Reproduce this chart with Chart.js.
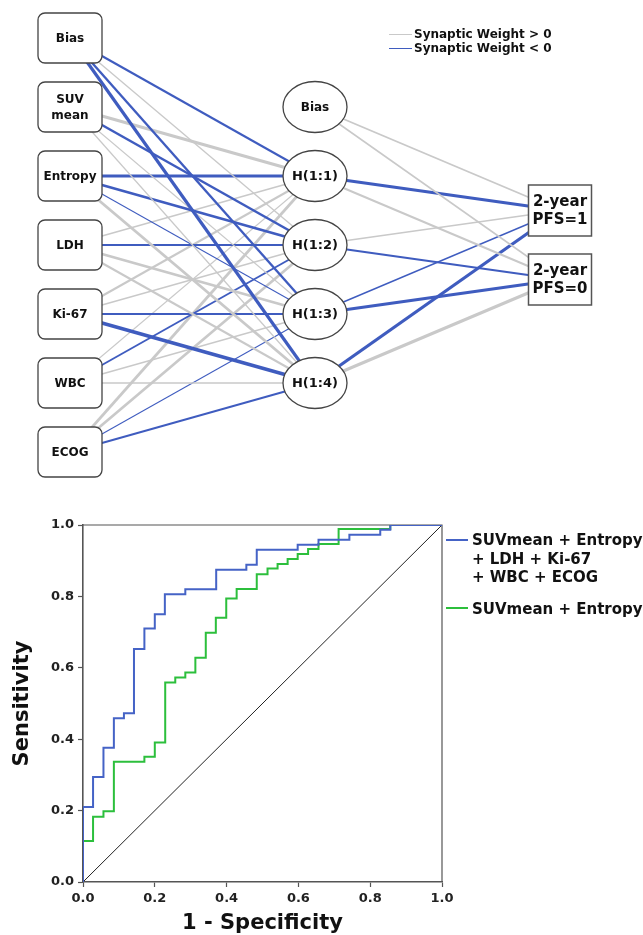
<!DOCTYPE html>
<html>
<head>
<meta charset="utf-8">
<script src="https://cdn.jsdelivr.net/npm/chart.js@4.4.1/dist/chart.umd.min.js"></script>
<style>
  body { margin: 0; background: #fff; font-family: "DejaVu Sans", sans-serif; }
  #wrap { position: relative; width: 643px; height: 935px; overflow: hidden; }
  #net { position: absolute; left: 0; top: 0; }
  #roc { position: absolute; left: 0; top: 490px; }
  .leg { position: absolute; font-weight: bold; color: #111; white-space: nowrap; }
  .sw { position: absolute; height: 0; }
</style>
</head>
<body>
<div id="wrap">
  <canvas id="net" width="643" height="490"></canvas>
  <canvas id="roc" width="643" height="445"></canvas>

  <!-- network legend -->
  <div class="sw" style="left:389px;top:34px;width:23px;border-top:1.5px solid #c9c9c9"></div>
  <div class="leg" style="left:414px;top:27px;font-size:12px;line-height:15px">Synaptic Weight &gt; 0</div>
  <div class="sw" style="left:389px;top:48px;width:23px;border-top:1.5px solid #3f5cbf"></div>
  <div class="leg" style="left:414px;top:41px;font-size:12px;line-height:15px">Synaptic Weight &lt; 0</div>

  <!-- ROC legend -->
  <div class="sw" style="left:446px;top:539px;width:22px;border-top:2px solid #4563c6"></div>
  <div class="leg" style="left:472px;top:531px;font-size:15px;line-height:18.5px">SUVmean + Entropy<br>+ LDH + Ki-67<br>+ WBC + ECOG</div>
  <div class="sw" style="left:446px;top:607px;width:22px;border-top:2px solid #2cbf3c"></div>
  <div class="leg" style="left:472px;top:600px;font-size:15px;line-height:18.5px">SUVmean + Entropy</div>
</div>

<script>
// ---- network data ----
const inputNodes = ['Bias', 'SUV\nmean', 'Entropy', 'LDH', 'Ki-67', 'WBC', 'ECOG'];
const hiddenNodes = ['Bias', 'H(1:1)', 'H(1:2)', 'H(1:3)', 'H(1:4)'];
const outputNodes = ['2-year\nPFS=1', '2-year\nPFS=0'];

// synaptic weights: rows = input node, columns = H(1:1)..H(1:4)
const wInputHidden = [
  [-0.9,  0.5, -1.1, -1.6],
  [ 1.5, -1.2,  0.3,  0.4],
  [-1.6, -1.2, -0.3,  1.4],
  [ 0.6, -0.8,  1.3,  0.9],
  [ 0.9,  0.5, -0.9, -1.8],
  [ 0.3, -0.8,  0.5,  0.5],
  [ 1.3,  1.3, -0.3, -0.8]
];
// rows = hidden Bias, H(1:1)..H(1:4), columns = PFS=1, PFS=0
const wHiddenOutput = [
  [ 0.8,  0.6],
  [-1.6,  0.9],
  [ 0.6, -1.0],
  [-0.5, -1.5],
  [-1.6,  1.5]
];

// ---- ROC data ----
const blueFpr = [0, 0, 0.028, 0.057, 0.086, 0.114, 0.142, 0.171, 0.200, 0.228, 0.285, 0.371, 0.455, 0.484, 0.598, 0.656, 0.742, 0.828, 0.856, 1];
const blueTpr = [0, 0.210, 0.294, 0.376, 0.459, 0.473, 0.653, 0.710, 0.750, 0.806, 0.820, 0.875, 0.889, 0.931, 0.945, 0.959, 0.973, 0.987, 1.0, 1];
const greenFpr = [0, 0, 0.028, 0.057, 0.086, 0.171, 0.200, 0.229, 0.257, 0.285, 0.313, 0.342, 0.370, 0.399, 0.428, 0.484, 0.514, 0.542, 0.570, 0.598, 0.627, 0.656, 0.712, 0.856, 1];
const greenTpr = [0, 0.115, 0.183, 0.198, 0.337, 0.351, 0.391, 0.559, 0.573, 0.587, 0.628, 0.698, 0.740, 0.794, 0.821, 0.862, 0.878, 0.891, 0.905, 0.919, 0.933, 0.947, 0.989, 1.0, 1];
const xTicks = [0, 0.2, 0.4, 0.6, 0.8, 1.0];

const GRAY = '#c9c9c9';
const BLUE = '#3f5cbf';

// every layer is centred on the same row
function rowOf(i, n) { return 3 + i - (n - 1) / 2; }

function edge(x1, r1, x2, r2, w) {
  return {
    data: [{ x: x1, y: r1 }, { x: x2, y: r2 }],
    showLine: true,
    borderColor: w > 0 ? GRAY : BLUE,
    borderWidth: 0.6 + 1.6 * Math.abs(w),
    pointRadius: 0,
    fill: false
  };
}

const edges = [];
wInputHidden.forEach((row, i) => {
  row.forEach((w, j) => {
    edges.push(edge(0, rowOf(i, inputNodes.length), 1, rowOf(j + 1, hiddenNodes.length), w));
  });
});
wHiddenOutput.forEach((row, i) => {
  row.forEach((w, j) => {
    edges.push(edge(1, rowOf(i, hiddenNodes.length), 2, rowOf(j, outputNodes.length), w));
  });
});

function drawLabel(ctx, text, x, y, size, lh) {
  const lines = text.split('\n');
  ctx.font = 'bold ' + size + 'px "DejaVu Sans"';
  ctx.fillStyle = '#111';
  ctx.textAlign = 'center';
  ctx.textBaseline = 'middle';
  lines.forEach((t, k) => {
    ctx.fillText(t, x, y + (k - (lines.length - 1) / 2) * lh);
  });
}

// draws the nodes on top of the connections
const nodePlugin = {
  id: 'nodes',
  afterDatasetsDraw(chart) {
    const ctx = chart.ctx;
    const xs = chart.scales.x, ys = chart.scales.y;
    ctx.save();
    inputNodes.forEach((name, i) => {
      const x = xs.getPixelForValue(0), y = ys.getPixelForValue(rowOf(i, inputNodes.length));
      ctx.beginPath();
      ctx.roundRect(x - 32, y - 25, 64, 50, 7);
      ctx.fillStyle = '#fff';
      ctx.fill();
      ctx.lineWidth = 1.3;
      ctx.strokeStyle = '#444';
      ctx.stroke();
      drawLabel(ctx, name, x, y + 1, 12, 16);
    });
    hiddenNodes.forEach((name, i) => {
      const x = xs.getPixelForValue(1), y = ys.getPixelForValue(rowOf(i, hiddenNodes.length));
      ctx.beginPath();
      ctx.ellipse(x, y, 32, 25.5, 0, 0, Math.PI * 2);
      ctx.fillStyle = '#fff';
      ctx.fill();
      ctx.lineWidth = 1.3;
      ctx.strokeStyle = '#444';
      ctx.stroke();
      drawLabel(ctx, name, x, y + 1, name === 'Bias' ? 12 : 13, 16);
    });
    outputNodes.forEach((name, i) => {
      const x = xs.getPixelForValue(2), y = ys.getPixelForValue(rowOf(i, outputNodes.length));
      ctx.beginPath();
      ctx.rect(x - 31.5, y - 25.5, 63, 51);
      ctx.fillStyle = '#fff';
      ctx.fill();
      ctx.lineWidth = 1.5;
      ctx.strokeStyle = '#555';
      ctx.stroke();
      drawLabel(ctx, name, x, y + 1, 15, 18);
    });
    ctx.restore();
  }
};

new Chart(document.getElementById('net'), {
  type: 'scatter',
  data: { datasets: edges },
  options: {
    responsive: false,
    animation: false,
    layout: { padding: 0, autoPadding: false },
    plugins: { legend: { display: false }, tooltip: { enabled: false } },
    scales: {
      x: { type: 'linear', display: false, min: -70 / 245, max: 573 / 245 },
      y: { type: 'linear', display: false, reverse: true, min: -38 / 69, max: 452 / 69 }
    }
  },
  plugins: [nodePlugin]
});

// ---- ROC chart ----
function pts(xs, ys) { return xs.map((x, i) => ({ x: x, y: ys[i] })); }

// closes the frame on the top and right sides
const framePlugin = {
  id: 'frame',
  beforeDatasetsDraw(chart) {
    const { ctx, chartArea: a } = chart;
    ctx.save();
    ctx.strokeStyle = '#555';
    ctx.lineWidth = 1.2;
    ctx.beginPath();
    ctx.moveTo(a.left, a.top);
    ctx.lineTo(a.right, a.top);
    ctx.lineTo(a.right, a.bottom);
    ctx.stroke();
    ctx.restore();
  }
};

const tickFont = { family: '"DejaVu Sans"', size: 13, weight: 'bold' };
const titleFont = { family: '"DejaVu Sans"', size: 21, weight: 'bold', lineHeight: 1 };

new Chart(document.getElementById('roc'), {
  type: 'scatter',
  data: {
    datasets: [
      { data: pts(blueFpr, blueTpr), showLine: true, stepped: 'before', borderColor: '#4563c6', borderWidth: 2, pointRadius: 0, order: 0 },
      { data: pts(greenFpr, greenTpr), showLine: true, stepped: 'before', borderColor: '#2cbf3c', borderWidth: 2, pointRadius: 0, order: 1 },
      { data: [{ x: 0, y: 0 }, { x: 1, y: 1 }], showLine: true, borderColor: '#222', borderWidth: 1, pointRadius: 0, order: 2 }
    ]
  },
  options: {
    responsive: false,
    animation: false,
    layout: { padding: { left: 0, right: 201, top: 35, bottom: 0 } },
    plugins: { legend: { display: false }, tooltip: { enabled: false } },
    scales: {
      x: {
        type: 'linear', min: 0, max: 1,
        afterBuildTicks: s => { s.ticks = xTicks.map(v => ({ value: v })); },
        afterFit: s => { s.height = 53; },
        ticks: { font: tickFont, color: '#222', padding: 4, maxRotation: 0, callback: v => v.toFixed(1) },
        grid: { drawOnChartArea: false, tickLength: 5, color: '#555', tickWidth: 1.2 },
        border: { color: '#555', width: 1.6 },
        title: { display: true, text: '1 - Specificity', font: titleFont, color: '#111', padding: { top: 0, bottom: 1 } }
      },
      y: {
        type: 'linear', min: 0, max: 1,
        afterBuildTicks: s => { s.ticks = xTicks.map(v => ({ value: v })); },
        afterFit: s => { s.width = 83; },
        ticks: { font: tickFont, color: '#222', padding: 4, callback: v => v.toFixed(1) },
        grid: { drawOnChartArea: false, tickLength: 5, color: '#555', tickWidth: 1.2 },
        border: { color: '#555', width: 1.6 },
        title: { display: true, text: 'Sensitivity', font: titleFont, color: '#111', padding: { top: 12, bottom: 0 } }
      }
    }
  },
  plugins: [framePlugin]
});
</script>
</body>
</html>
